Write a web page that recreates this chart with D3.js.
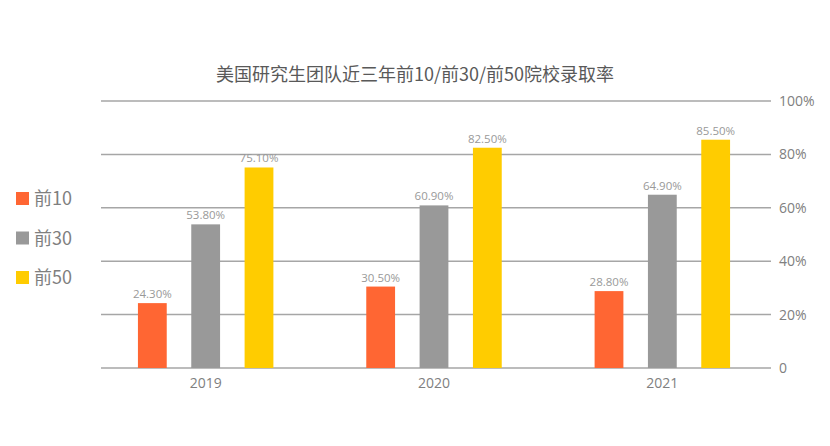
<!DOCTYPE html>
<html lang="zh">
<head>
<meta charset="UTF-8">
<script src="https://cdnjs.cloudflare.com/ajax/libs/d3/7.8.5/d3.min.js"></script>
<style>
    * { margin: 0; padding: 0; }
    body { background: #fff; font-family: "Open Sans", "Noto Sans CJK SC", sans-serif; }
</style>
</head>
<body>
<div id="chart"></div>
<script>
    const years = ['2019', '2020', '2021'];
    const seriesNames = ['前10', '前30', '前50'];
    const top10 = [24.3, 30.5, 28.8];
    const top30 = [53.8, 60.9, 64.9];
    const top50 = [75.1, 82.5, 85.5];
    const yTicks = [0, 20, 40, 60, 80, 100];
    const colors = ['#FF6633', '#999999', '#FFCC00'];

    const width = 830, height = 446;
    const series = [top10, top30, top50];

    const svg = d3.select('#chart').append('svg')
        .attr('width', width)
        .attr('height', height);

    // title
    svg.append('text')
        .attr('x', 415).attr('y', 81)
        .attr('text-anchor', 'middle')
        .attr('font-size', 18)
        .attr('fill', '#595959')
        .attr('font-family', '"Noto Sans CJK SC", "Open Sans", sans-serif')
        .text('美国研究生团队近三年前10/前30/前50院校录取率');

    const y = d3.scaleLinear().domain([0, 100]).range([368, 101]);
    const x0 = d3.scaleBand().domain(years).range([91.5, 776.5]);
    const x1 = d3.scaleBand().domain(seriesNames).range([-80, 80])
        .paddingInner(0.46).paddingOuter(0.23);

    // grid lines
    svg.append('g').selectAll('line')
        .data(yTicks)
        .enter().append('line')
        .attr('x1', 101).attr('x2', 771)
        .attr('y1', d => y(d)).attr('y2', d => y(d))
        .attr('stroke', '#a6a6a6')
        .attr('stroke-width', 1.5);

    // right axis
    const yAxis = svg.append('g')
        .attr('transform', 'translate(771,0)')
        .call(d3.axisRight(y).tickValues(yTicks).tickSize(0).tickPadding(8)
            .tickFormat(d => d === 0 ? '0' : d + '%'));
    yAxis.select('.domain').remove();
    yAxis.selectAll('text')
        .attr('font-size', 14)
        .attr('font-family', '"Open Sans", sans-serif')
        .attr('fill', '#808080');

    // bottom labels
    const xAxis = svg.append('g')
        .attr('transform', 'translate(0,368)')
        .call(d3.axisBottom(x0).tickSize(0).tickPadding(10));
    xAxis.select('.domain').remove();
    xAxis.selectAll('text')
        .attr('font-size', 14)
        .attr('font-family', '"Open Sans", sans-serif')
        .attr('fill', '#808080');

    // bars
    const groups = svg.append('g').selectAll('g')
        .data(years)
        .enter().append('g')
        .attr('transform', d => `translate(${x0(d) + x0.bandwidth() / 2},0)`);

    seriesNames.forEach((name, si) => {
        groups.append('rect')
            .attr('x', x1(name))
            .attr('width', x1.bandwidth())
            .attr('y', (d, i) => y(series[si][i]))
            .attr('height', (d, i) => y(0) - y(series[si][i]))
            .attr('fill', colors[si]);

        groups.append('text')
            .attr('x', x1(name) + x1.bandwidth() / 2)
            .attr('y', (d, i) => y(series[si][i]) - 5)
            .attr('text-anchor', 'middle')
            .attr('font-size', 11.5)
            .attr('font-family', '"Open Sans", sans-serif')
            .attr('fill', '#999999')
            .text((d, i) => series[si][i].toFixed(2) + '%');
    });

    // legend
    const legend = svg.append('g').selectAll('g')
        .data(seriesNames)
        .enter().append('g')
        .attr('transform', (d, i) => `translate(16,${192 + i * 39.5})`);
    legend.append('rect')
        .attr('width', 13).attr('height', 13)
        .attr('fill', (d, i) => colors[i]);
    legend.append('text')
        .attr('x', 18).attr('y', 13)
        .attr('font-size', 18)
        .attr('fill', '#7f7f7f')
        .attr('font-family', '"Noto Sans CJK SC", "Open Sans", sans-serif')
        .text(d => d);
</script>
</body>
</html>
